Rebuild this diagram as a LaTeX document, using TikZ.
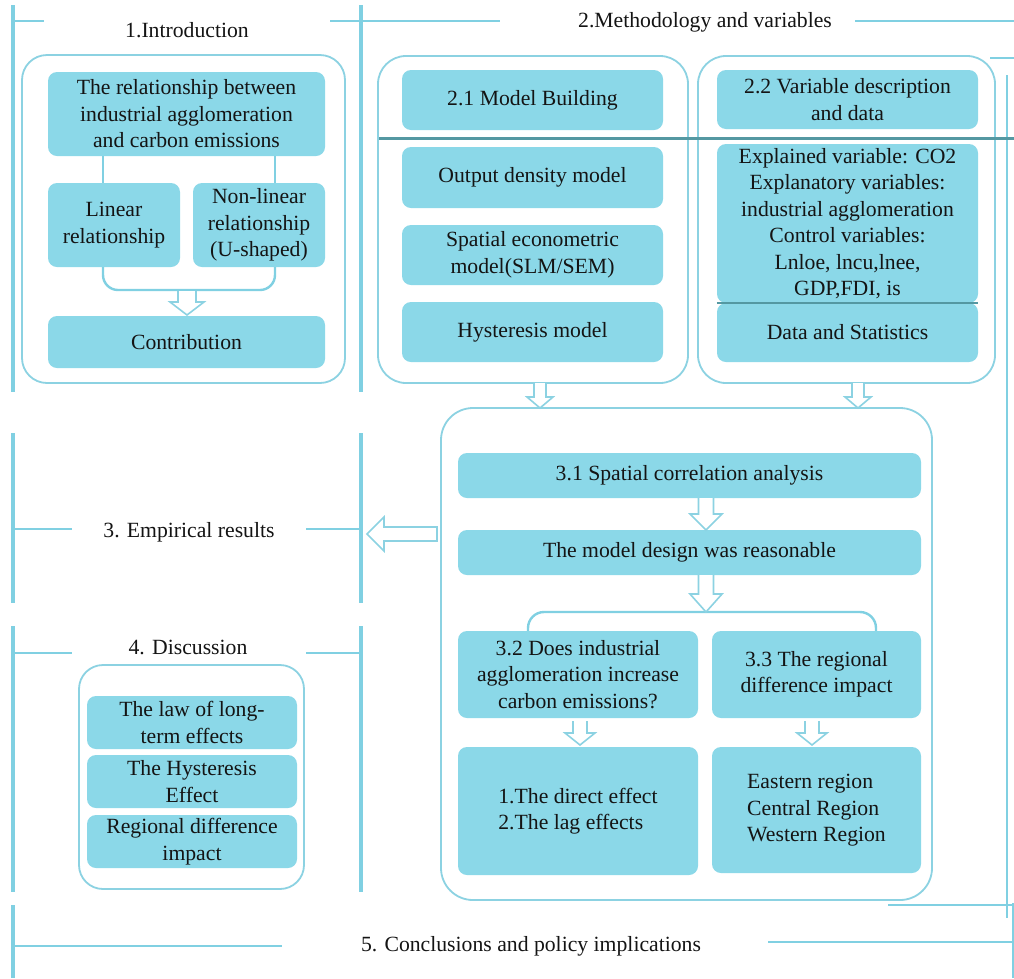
\documentclass[tikz,border=0pt]{standalone}
\usepackage{fontspec}
\setmainfont{Liberation Serif}
\usetikzlibrary{calc}
\definecolor{boxfill}{RGB}{139,216,232}
\definecolor{brk}{RGB}{128,208,226}
\definecolor{outl}{RGB}{140,210,226}
\definecolor{darkline}{RGB}{84,152,162}
\definecolor{txt}{RGB}{20,20,20}
\tikzset{
  x=1pt,y=-1pt,
  box/.style={fill=boxfill,rounded corners=9pt,inner sep=0pt,align=center,text=txt,
    font=\fontsize{21.7}{26.5}\selectfont},
  outer/.style={draw=outl,line width=1.8pt,rounded corners=28pt,inner sep=0pt},
  bracket/.style={draw=brk,line width=3.2pt},
  tick/.style={draw=brk,line width=2pt},
  conn/.style={draw=brk,line width=2.4pt},
  harrow/.style={draw=outl,fill=white,line width=1.6pt,line join=miter},
  head/.style={text=txt,inner sep=0pt,font=\fontsize{21.7}{26.5}\selectfont},
}
% \bx[style]{name}{x1}{y1}{x2}{y2}{text}
\newcommand\bx[7][box]{%
  \node[#1,minimum width={(#5-#3)*1pt},minimum height={(#6-#4)*1pt}]
    (#2) at ({(#3+#5)/2},{(#4+#6)/2}) {#7};}
% \hdown{x}{ytop}{yhead}{ytip}{shaft half}{head half}
\newcommand\hdown[6]{%
  \draw[harrow] ({#1-#5},#2) -- ({#1-#5},#3) -- ({#1-#6},#3) -- (#1,#4)
    -- ({#1+#6},#3) -- ({#1+#5},#3) -- ({#1+#5},#2);}
\begin{document}
\begin{tikzpicture}
\useasboundingbox[fill=white] (0,0) rectangle (1014,978);

% ---------- brackets ----------
\draw[bracket] (13,5) -- (13,392);
\draw[bracket] (361,5) -- (361,392);
\draw[tick] (13,21) -- (44,21);
\draw[tick] (330,21) -- (361,21);
\draw[tick] (361,21) -- (500,21);
\draw[tick] (855,21) -- (1014,21);
\draw[bracket] (13,433) -- (13,603);
\draw[bracket] (361,433) -- (361,603);
\draw[tick] (13,529) -- (72,529);
\draw[tick] (306,529) -- (361,529);
\draw[bracket] (13,626) -- (13,892);
\draw[bracket] (361,626) -- (361,892);
\draw[tick] (13,653) -- (72,653);
\draw[tick] (306,653) -- (361,653);
\draw[bracket] (13,905) -- (13,978);
\draw[tick] (13,946) -- (282,946);
\draw[tick] (768,942) -- (1014,942);
\draw[tick] (990,58) -- (1014,58);
\draw[tick] (1007,75) -- (1007,918);
\draw[tick] (888,905) -- (1014,905);
\draw[tick] (1013,903) -- (1013,978);

% ---------- headings ----------
\node[head] (h1) at (187,30) {1.Introduction};
\node[head] (h2) at (705,22) {2.Methodology and variables};
\node[head] (h3) at (189,532) {3. Empirical results};
\node[head] (h4) at (188,647) {4. Discussion};
\node[head] (h5) at (531,946) {5. Conclusions and policy implications};

% ---------- 1 Introduction ----------
\bx[outer,rounded corners=25pt]{o1}{22}{55}{345}{383}{}
\bx{rel}{48}{72}{325}{156}{The relationship between\\industrial agglomeration\\and carbon emissions}
\bx{lin}{48}{183}{180}{267}{Linear\\relationship}
\bx{non}{193}{183}{325}{267}{Non-linear\\relationship\\(U-shaped)}
\bx{con}{48}{316}{325}{368}{Contribution}
\draw[conn] (103,0 |- rel.south) -- (103,0 |- lin.north);
\draw[conn] (275,0 |- rel.south) -- (275,0 |- non.north);
\draw[conn,rounded corners=15pt] (103,0 |- lin.south) -- (103,290) -- (275,290) -- (275,0 |- non.south);
\hdown{187}{291}{302}{315}{9}{17}

% ---------- 2 Methodology ----------
\bx[outer]{o21}{378}{56}{688}{383}{}
\bx[outer]{o22}{698}{56}{995}{383}{}
\bx{mb}{402}{70}{663}{130}{2.1 Model Building}
\bx{odm}{402}{147}{663}{208}{Output density model}
\bx{sem}{402}{225}{663}{285}{Spatial econometric\\model(SLM/SEM)}
\bx{hys}{402}{302}{663}{362}{Hysteresis model}
\bx{vd}{717}{70}{978}{129}{2.2 Variable description\\and data}
\bx{ev}{717}{144}{978}{303}{Explained variable: CO2\\Explanatory variables:\\industrial agglomeration\\Control variables:\\Lnloe, lncu,lnee,\\GDP,FDI, is}
\bx{ds}{717}{303}{978}{362}{Data and Statistics}
\draw[darkline,line width=1.5pt] (ev.south west) -- (ev.south east);
\draw[darkline,line width=3pt] (379,138) -- (1014,138);
\hdown{540}{383}{397}{408}{6}{13}
\hdown{858}{383}{397}{408}{6}{13}

% ---------- 3 Empirical ----------
\bx[outer,rounded corners=32pt]{o3}{441}{408}{932}{900}{}
\bx{sca}{458}{453}{921}{498}{3.1 Spatial correlation analysis}
\bx{mdr}{458}{530}{921}{575}{The model design was reasonable}
\bx{q32}{458}{631}{698}{718}{3.2 Does industrial\\agglomeration increase\\carbon emissions?}
\bx{q33}{712}{631}{921}{718}{3.3 The regional\\difference impact}
\bx{de}{458}{747}{698}{875}{\begin{tabular}{@{}l@{}}1.The direct effect\\2.The lag effects\end{tabular}}
\bx{er}{712}{747}{921}{873}{\begin{tabular}{@{}l@{}}Eastern region\\Central Region\\Western Region\end{tabular}}
\hdown{706}{498}{514}{530}{7.5}{16}
\draw[conn,rounded corners=16pt] (528,0 |- q32.north) -- (528,612) -- (876,612) -- (876,0 |- q33.north);
\hdown{706}{575}{594}{612}{7.5}{16}
\hdown{580}{721}{733}{745}{7}{15}
\hdown{812}{721}{733}{745}{7}{15}
\draw[harrow] (437,527) -- (384,527) -- (384,517) -- (367,534) -- (384,551) -- (384,541) -- (437,541) -- cycle;

% ---------- 4 Discussion ----------
\bx[outer,rounded corners=24pt]{o4}{79}{665}{304}{889}{}
\bx{d1}{87}{696}{297}{749}{The law of long-\\term effects}
\bx{d2}{87}{755}{297}{808}{The Hysteresis\\Effect}
\bx{d3}{87}{815}{297}{868}{Regional difference\\impact}
\end{tikzpicture}
\end{document}
